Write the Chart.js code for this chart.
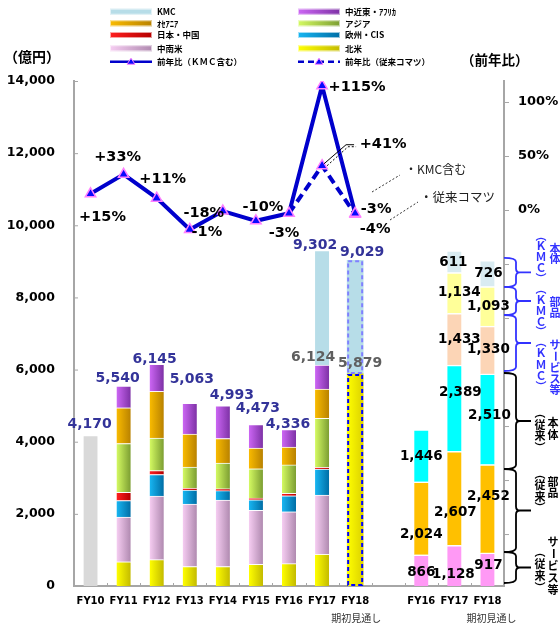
<!DOCTYPE html>
<html>
<head>
<meta charset="utf-8">
<script src="https://cdn.jsdelivr.net/npm/chart.js@4/dist/chart.umd.min.js"></script>
<style>
  html, body { margin: 0; padding: 0; background: #fff; }
  #wrap { width: 560px; height: 624px; position: relative; }
</style>
</head>
<body>
<div id="wrap"><canvas id="c" width="560" height="624"></canvas></div>
<script>
// ---- data (億円 / %) ----
const categories = ['FY10','FY11','FY12','FY13','FY14','FY15','FY16','FY17','FY18','','FY16','FY17','FY18'];
const outlookNote = '期初見通し';
const outlookIndex = [8, 12];

// 地域別（従来コマツ）
const northAmerica     = [null, 670, 730, 540, 540, 600, 620, 880, null, null, null, null, null];
const latinAmerica     = [null, 1240, 1760, 1730, 1845, 1500, 1435, 1640, null, null, null, null, null];
const europeCIS        = [null, 460, 600, 390, 260, 290, 445, 722, null, null, null, null, null];
const japanChina       = [null, 230, 110, 50, 50, 50, 67, 47, null, null, null, null, null];
const asia             = [null, 1350, 900, 585, 715, 810, 790, 1360, null, null, null, null, null];
const oceania          = [null, 990, 1295, 915, 680, 575, 495, 810, null, null, null, null, null];
const middleEastAfrica = [null, 600, 750, 853, 903, 648, 484, 665, null, null, null, null, null];
const kmcSales         = [null, null, null, null, null, null, null, 3178, null, null, null, null, null];
const fy10Sales        = [4170, null, null, null, null, null, null, null, null, null, null, null, null];
const fy18Komatsu      = [null, null, null, null, null, null, null, null, 5879, null, null, null, null];
const fy18Kmc          = [null, null, null, null, null, null, null, null, 3150, null, null, null, null];

// 事業別（従来 / KMC）
const serviceLegacy = [null, null, null, null, null, null, null, null, null, null, 866, 1128, 917];
const partsLegacy   = [null, null, null, null, null, null, null, null, null, null, 2024, 2607, 2452];
const bodyLegacy    = [null, null, null, null, null, null, null, null, null, null, 1446, 2389, 2510];
const serviceKmc    = [null, null, null, null, null, null, null, null, null, null, null, 1433, 1330];
const partsKmc      = [null, null, null, null, null, null, null, null, null, null, null, 1134, 1093];
const bodyKmc       = [null, null, null, null, null, null, null, null, null, null, null, 611, 726];

// 前年比（%）
const yoyKmc    = [15, 33, 11, -18, -1, -10, -3, 115, -3, null, null, null, null];
const yoyLegacy = [null, null, null, null, null, null, -3, 41, -4, null, null, null, null];

const leftTicks  = [0, 2000, 4000, 6000, 8000, 10000, 12000, 14000];
const rightTicks = [0, 50, 100];

// ---- styling ----
const NUM = '"DejaVu Sans", Verdana, sans-serif';
const JP  = '"Noto Sans CJK JP", "Noto Sans", sans-serif';
const KMC_BLUE = '#3333ff';
const totalColor = '#333399';

const totalOffsets = [[-1,-11],[-6,-8],[-2,-5],[2,-24],[9,-11],[2,-16],[-1,-5],[-7,-5],[7,-8]];
const subtotalOffsets = { 7: [-9, -8], 8: [5, -11] };
const yoyKmcOffsets = [[12,23],[-6,-17],[6,-19],[14,-16],[-16,21],[7,-14],[-5,20],[35,1],[21,-4]];
const yoyLegacyOffsets = { 7: [61,-21], 8: [20,15] };
const segmentLabelShift = {
  10: [[0,2],[0,16],[0,1]],
  11: [[-1,9],[1,14],[6,-16],[5,0],[5,0],[-1,1]],
  12: [[1,-4],[1,-12],[2,-4],[1,0],[1,0],[1,0]]
};

function grad(c0, c1, half) {
  return (ctx) => {
    const chart = ctx.chart;
    const xs = chart.scales && chart.scales.x;
    if (ctx.type !== 'data' || !xs) return c0;
    const cx = xs.getPixelForValue(ctx.dataIndex);
    if (!Number.isFinite(cx)) return c0;
    const g = chart.ctx.createLinearGradient(cx - half, 0, cx + half, 0);
    g.addColorStop(0, c0);
    g.addColorStop(1, c1);
    return g;
  };
}

function bar(label, data, fill, extra) {
  return Object.assign({
    type: 'bar', label, data, backgroundColor: fill,
    borderColor: 'rgba(255,255,255,0.85)',
    borderWidth: { top: 1, left: 0, right: 0, bottom: 0 },
    borderSkipped: 'start',
    barThickness: 14, stack: 's', yAxisID: 'y', order: 2
  }, extra || {});
}

const regionDefs = [
  ['北米', northAmerica, '#ffff00', '#c4bb00'],
  ['中南米', latinAmerica, '#f6cdf2', '#b08ab0'],
  ['欧州・CIS', europeCIS, '#18b6f2', '#006ea6'],
  ['日本・中国', japanChina, '#ff2020', '#b50000'],
  ['アジア', asia, '#d4fa62', '#7c9e32'],
  ['ｵｾｱﾆｱ', oceania, '#f9bb00', '#b98200'],
  ['中近東・ｱﾌﾘｶ', middleEastAfrica, '#cc66f4', '#7e32a6']
];

const datasets = [
  bar('FY10', fy10Sales, '#d9d9d9'),
  ...regionDefs.map(d => bar(d[0], d[1], grad(d[2], d[3], 7))),
  bar('KMC', kmcSales, '#b7dde8'),
  bar('北米（期初見通し）', fy18Komatsu, grad('#ffff00', '#dcd200', 8), { barThickness: 16, borderWidth: 0 }),
  bar('KMC（期初見通し）', fy18Kmc, '#b7dde8', { barThickness: 16, borderWidth: 0 }),
  bar('サービス等（従来）', serviceLegacy, '#ff99f5', { borderWidth: { top: 1.5 } }),
  bar('部品（従来）', partsLegacy, '#ffc000', { borderWidth: { top: 1.5 } }),
  bar('本体（従来）', bodyLegacy, '#00ffff', { borderWidth: { top: 1.5 } }),
  bar('サービス等（KMC）', serviceKmc, '#fcd5b6', { borderWidth: { top: 1.5 } }),
  bar('部品（KMC）', partsKmc, '#ffff99', { borderWidth: { top: 1.5 } }),
  bar('本体（KMC）', bodyKmc, '#d9ebf1', { borderWidth: { top: 1.5 } }),
  {
    type: 'line', label: '前年比（ＫＭＣ含む）', data: yoyKmc, yAxisID: 'y2',
    borderColor: '#0000cc', borderWidth: 4, tension: 0, spanGaps: false,
    pointStyle: 'triangle', pointRadius: 6, pointBackgroundColor: '#0a0aff',
    pointBorderColor: '#ff80ff', pointBorderWidth: 1.5, order: 0
  },
  {
    type: 'line', label: '前年比（従来コマツ）', data: yoyLegacy, yAxisID: 'y2',
    borderColor: '#0000cc', borderWidth: 4, borderDash: [9, 5], tension: 0, spanGaps: false,
    pointStyle: 'triangle', pointRadius: (c) => (c.dataIndex === 6 ? 0 : 6),
    pointBackgroundColor: '#0a0aff', pointBorderColor: '#ff80ff', pointBorderWidth: 1.5, order: 1
  }
];

// ---- drawing helpers ----
function txt(ctx, s, x, y, font, color, align, baseline) {
  ctx.font = font;
  ctx.fillStyle = color;
  ctx.textAlign = align || 'center';
  ctx.textBaseline = baseline || 'middle';
  ctx.fillText(s, x, y);
}
function fmt(n) { return n.toLocaleString('en-US'); }
function pct(v) { return (v > 0 ? '+' : '') + v + '%'; }
function vcol(ctx, chars, x, y0, step, font, color) {
  ctx.font = font; ctx.fillStyle = color; ctx.textAlign = 'center'; ctx.textBaseline = 'middle';
  chars.forEach((ch, i) => {
    const y = y0 + i * step;
    if (ch === 'ー') {
      ctx.save(); ctx.translate(x, y); ctx.rotate(Math.PI / 2); ctx.fillText(ch, 0, 0); ctx.restore();
    } else ctx.fillText(ch, x, y);
  });
}

const legendItems = [
  { col: 0, row: 0, label: 'KMC', fill: ['#b7dde8', '#b7dde8'] },
  { col: 0, row: 1, label: 'ｵｾｱﾆｱ', fill: ['#f9bb00', '#b98200'] },
  { col: 0, row: 2, label: '日本・中国', fill: ['#ff2020', '#b50000'] },
  { col: 0, row: 3, label: '中南米', fill: ['#f6cdf2', '#b08ab0'] },
  { col: 0, row: 4, label: '前年比（ＫＭＣ含む）', line: [] },
  { col: 1, row: 0, label: '中近東・ｱﾌﾘｶ', fill: ['#cc66f4', '#7e32a6'] },
  { col: 1, row: 1, label: 'アジア', fill: ['#d4fa62', '#7c9e32'] },
  { col: 1, row: 2, label: '欧州・CIS', fill: ['#18b6f2', '#006ea6'] },
  { col: 1, row: 3, label: '北米', fill: ['#ffff00', '#c4bb00'] },
  { col: 1, row: 4, label: '前年比（従来コマツ）', line: [6, 4] }
];

// bracket ranges in 億円 on the right-hand stack, with text columns
const brackets = [
  { from: 8290, to: 9095, color: KMC_BLUE, a: ['︵','Ｋ','Ｍ','Ｃ','︶'], b: ['本','体'], ay: -37, by: -24, step: 10.8 },
  { from: 7513, to: 8290, color: KMC_BLUE, a: ['︵','Ｋ','Ｍ','Ｃ','︶'], b: ['部','品'], ay: -12, by: 1, step: 10.8 },
  { from: 5961, to: 7513, color: KMC_BLUE, a: ['︵','Ｋ','Ｍ','Ｃ','︶'], b: ['サ','ー','ビ','ス','等'], ay: -1, by: 2, step: 11.2 },
  { from: 3244, to: 5905, color: '#000', a: ['︵','従','来','︶'], b: ['本','体'], ay: -8, by: 2, step: 11.5 },
  { from: 943, to: 3244, color: '#000', a: ['︵','従','来','︶'], b: ['部','品'], ay: -37, by: -29, step: 11.5 },
  { from: 83, to: 943, color: '#000', a: ['︵','従','来','︶'], b: ['サ','ー','ビ','ス','等'], ay: -16, by: -26, step: 12 }
];

const overlay = {
  id: 'overlay',
  afterDatasetsDraw(chart) {
    const ctx = chart.ctx;
    // dashed outlines for the FY18 outlook bars
    [[datasets.findIndex(d => d.data === fy18Komatsu), '#0000ff'],
     [datasets.findIndex(d => d.data === fy18Kmc), '#8080ff']].forEach(([di, col]) => {
      const el = chart.getDatasetMeta(di).data[8];
      if (!el) return;
      const w = el.width;
      const top = Math.min(el.y, el.base), bot = Math.max(el.y, el.base);
      ctx.save();
      ctx.strokeStyle = col; ctx.lineWidth = 2; ctx.setLineDash([4, 3]);
      ctx.strokeRect(el.x - w / 2 + 1, top + 1, w - 2, bot - top - 2);
      ctx.restore();
    });
  },
  afterDraw(chart) {
    const ctx = chart.ctx;
    const xs = chart.scales.x, ys = chart.scales.y, y2 = chart.scales.y2;
    const area = chart.chartArea;
    ctx.save();

    // legend
    legendItems.forEach(it => {
      const sx = it.col ? 298 : 110, y = [11.7, 23.3, 35, 48.3, 61.7][it.row];
      if (it.fill) {
        const g = ctx.createLinearGradient(sx, 0, sx + 42, 0);
        g.addColorStop(0, it.fill[0]); g.addColorStop(1, it.fill[1]);
        ctx.fillStyle = g; ctx.fillRect(sx, y - 3, 42, 6);
        ctx.strokeStyle = 'rgba(255,255,255,0.6)'; ctx.lineWidth = 1; ctx.strokeRect(sx + 0.5, y - 2.5, 41, 5);
      } else {
        ctx.strokeStyle = '#0000cc'; ctx.lineWidth = 2.5; ctx.setLineDash(it.line);
        ctx.beginPath(); ctx.moveTo(sx, y); ctx.lineTo(sx + 42, y); ctx.stroke(); ctx.setLineDash([]);
        ctx.beginPath(); ctx.moveTo(sx + 21, y - 3.5); ctx.lineTo(sx + 25, y + 2.5); ctx.lineTo(sx + 17, y + 2.5); ctx.closePath();
        ctx.fillStyle = '#0a0aff'; ctx.fill(); ctx.strokeStyle = '#ff80ff'; ctx.lineWidth = 1; ctx.stroke();
      }
      txt(ctx, it.label, sx + 47, y, 'bold 8.5px ' + JP, '#000', 'left');
    });

    // axis titles
    txt(ctx, '（億円）', 4, 57, 'bold 14px ' + JP, '#000', 'left');
    txt(ctx, '（前年比）', 461, 60, 'bold 13.5px ' + JP, '#000', 'left');

    // left ticks
    ctx.strokeStyle = '#a6a6a6'; ctx.lineWidth = 1;
    leftTicks.forEach(v => {
      const y = ys.getPixelForValue(v);
      ctx.beginPath(); ctx.moveTo(area.left, y + 0.5); ctx.lineTo(area.left + 4, y + 0.5); ctx.stroke();
      txt(ctx, fmt(v), 55, y, 'bold 12.5px ' + NUM, '#000', 'right');
    });
    // right ticks (every 50%, labels on 0-100%)
    ctx.strokeStyle = '#a6a6a6';
    for (let v = -350; v <= 100; v += 50) {
      const y = y2.getPixelForValue(v);
      if (y > area.bottom + 1) continue;
      ctx.beginPath(); ctx.moveTo(area.right, y + 0.5); ctx.lineTo(area.right + 5, y + 0.5); ctx.stroke();
    }
    rightTicks.forEach(v => txt(ctx, v + '%', 518, y2.getPixelForValue(v), 'bold 13px ' + NUM, '#000', 'left'));

    // category labels and small ticks
    categories.forEach((c, i) => {
      const x = xs.getPixelForValue(i);
      if (c) txt(ctx, c, x, 601.5, 'bold 10px ' + NUM, '#000');
    });
    const step = (area.right - area.left) / categories.length;
    ctx.strokeStyle = '#a6a6a6';
    for (let i = 1; i < categories.length; i++) {
      const x = Math.round(area.left + i * step) + 0.5;
      ctx.beginPath(); ctx.moveTo(x, area.bottom - 3); ctx.lineTo(x, area.bottom + 1); ctx.stroke();
    }
    outlookIndex.forEach((i, k) => txt(ctx, outlookNote, xs.getPixelForValue(i) + (k ? 4 : 1), 618, '10px ' + JP, '#333'));

    // totals over the left stacks
    const leftSets = [fy10Sales, ...regionDefs.map(d => d[1]), kmcSales, fy18Komatsu, fy18Kmc];
    for (let i = 0; i <= 8; i++) {
      const total = leftSets.reduce((s, a) => s + (a[i] || 0), 0);
      const [dx, dy] = totalOffsets[i];
      txt(ctx, fmt(total), xs.getPixelForValue(i) + dx, ys.getPixelForValue(total) + dy, 'bold 14px ' + NUM, totalColor);
    }
    Object.keys(subtotalOffsets).forEach(k => {
      const i = +k;
      const sub = regionDefs.reduce((s, d) => s + (d[1][i] || 0), 0) + (fy18Komatsu[i] || 0);
      const [dx, dy] = subtotalOffsets[k];
      txt(ctx, fmt(sub), xs.getPixelForValue(i) + dx, ys.getPixelForValue(sub) + dy, 'bold 14px ' + NUM, '#5f5f5f');
    });

    // segment values on the business stacks
    const bizSets = [serviceLegacy, partsLegacy, bodyLegacy, serviceKmc, partsKmc, bodyKmc];
    [10, 11, 12].forEach(i => {
      let base = 0, n = 0;
      bizSets.forEach(a => {
        const v = a[i];
        if (v == null) return;
        const mid = ys.getPixelForValue(base + v / 2);
        const [dx, dy] = segmentLabelShift[i][n];
        txt(ctx, fmt(v), xs.getPixelForValue(i) + dx, mid + dy, 'bold 13.5px ' + NUM, '#000');
        base += v; n++;
      });
    });

    // year-on-year labels
    yoyKmc.forEach((v, i) => {
      if (v == null) return;
      const [dx, dy] = yoyKmcOffsets[i];
      txt(ctx, pct(v), xs.getPixelForValue(i) + dx, y2.getPixelForValue(v) + dy, 'bold 14.5px ' + NUM, '#000');
    });
    Object.keys(yoyLegacyOffsets).forEach(k => {
      const i = +k, v = yoyLegacy[i];
      const [dx, dy] = yoyLegacyOffsets[k];
      txt(ctx, pct(v), xs.getPixelForValue(i) + dx, y2.getPixelForValue(v) + dy, 'bold 14.5px ' + NUM, '#000');
    });

    // leader for +41%
    const px = xs.getPixelForValue(7), py = y2.getPixelForValue(yoyLegacy[7]);
    ctx.strokeStyle = '#000'; ctx.lineWidth = 1;
    ctx.beginPath(); ctx.moveTo(px + 2, py - 2); ctx.lineTo(px + 24, py - 21); ctx.lineTo(px + 32, py - 21); ctx.stroke();
    ctx.setLineDash([2, 2]);
    ctx.beginPath(); ctx.moveTo(px + 5, py); ctx.lineTo(px + 26, py - 19); ctx.lineTo(px + 34, py - 19); ctx.stroke();

    // series notes
    ctx.strokeStyle = '#333';
    ctx.beginPath(); ctx.moveTo(372, 192); ctx.lineTo(400, 175); ctx.stroke();
    ctx.beginPath(); ctx.moveTo(390, 220); ctx.lineTo(418, 202); ctx.stroke();
    ctx.setLineDash([]);
    txt(ctx, '・KMC含む', 405, 169, '12px ' + JP, '#222', 'left');
    txt(ctx, '・従来コマツ', 420, 197, '12.5px ' + JP, '#222', 'left');

    // brackets with vertical captions
    brackets.forEach(b => {
      const y1 = ys.getPixelForValue(b.to), yb = ys.getPixelForValue(b.from);
      const ym = (y1 + yb) / 2, x0 = area.right, xv = 516, r = 4;
      ctx.strokeStyle = b.color; ctx.lineWidth = 1.8;
      ctx.beginPath();
      ctx.moveTo(x0, y1);
      ctx.quadraticCurveTo(xv, y1, xv, y1 + r);
      ctx.lineTo(xv, ym - r);
      ctx.quadraticCurveTo(xv, ym, xv + r, ym);
      ctx.lineTo(531, ym);
      ctx.moveTo(xv + r, ym);
      ctx.quadraticCurveTo(xv, ym, xv, ym + r);
      ctx.lineTo(xv, yb - r);
      ctx.quadraticCurveTo(xv, yb, x0, yb);
      ctx.stroke();
      const blue = b.color !== '#000';
      vcol(ctx, b.a, blue ? 541 : 540, ym + b.ay, b.step, 'bold 11px ' + JP, b.color);
      vcol(ctx, b.b, blue ? 555 : 553, ym + b.by, b.step, 'bold 11px ' + JP, b.color);
    });

    ctx.restore();
  }
};

new Chart(document.getElementById('c'), {
  data: { labels: categories, datasets },
  options: {
    responsive: false,
    devicePixelRatio: 1,
    animation: false,
    layout: { padding: { top: 81, left: 0, right: 0, bottom: 0 } },
    plugins: { legend: { display: false }, tooltip: { enabled: false } },
    scales: {
      x: {
        type: 'category', offset: true, stacked: true,
        grid: { display: false, drawTicks: false }, ticks: { display: false },
        border: { display: true, color: '#a6a6a6', width: 2 },
        afterFit: (s) => { s.height = 38; }
      },
      y: {
        position: 'left', stacked: true, min: 0, max: 14000,
        grid: { display: false, drawTicks: false }, ticks: { display: false },
        border: { display: true, color: '#a6a6a6', width: 2 },
        afterFit: (s) => { s.width = 74; }
      },
      y2: {
        position: 'right', min: -348.1, max: 119.44,
        grid: { display: false, drawTicks: false }, ticks: { display: false },
        border: { display: true, color: '#a6a6a6', width: 2 },
        afterFit: (s) => { s.width = 56; }
      }
    }
  },
  plugins: [overlay]
});
</script>
</body>
</html>
